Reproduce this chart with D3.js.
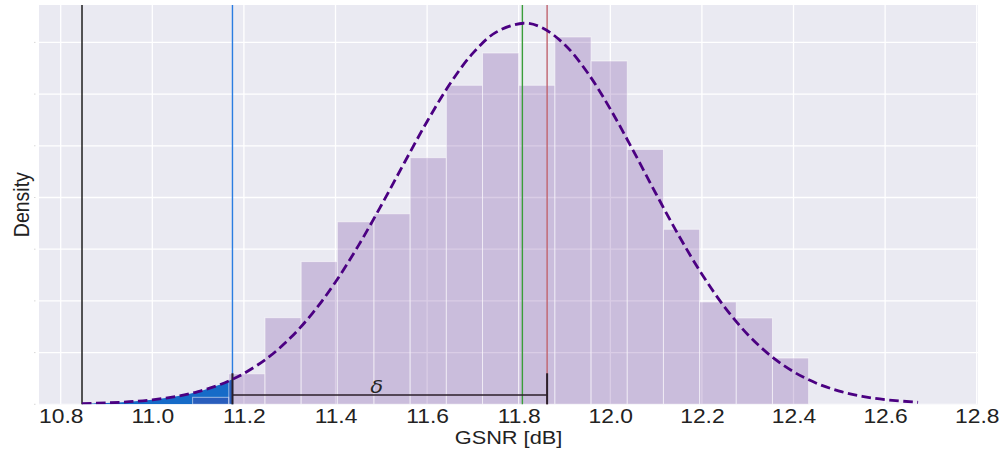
<!DOCTYPE html>
<html>
<head>
<meta charset="utf-8">
<script src="https://cdn.jsdelivr.net/npm/d3@7"></script>
<style>
  html, body { margin: 0; padding: 0; background: #ffffff; }
  svg { display: block; }
</style>
</head>
<body>
<svg id="chart" width="1005" height="454"></svg>
<script>
// ---------------- data ----------------
const xTickValues = [10.8, 11.0, 11.2, 11.4, 11.6, 11.8, 12.0, 12.2, 12.4, 12.6, 12.8];
const yGridValues = [0, 0.2, 0.4, 0.6, 0.8, 1.0, 1.2, 1.4];

const binEdges = [11.088, 11.167, 11.246, 11.325, 11.404, 11.484, 11.563, 11.642, 11.721,
                  11.800, 11.879, 11.958, 12.037, 12.116, 12.195, 12.275, 12.354, 12.433];
const binDensity = [0.027, 0.118, 0.335, 0.552, 0.706, 0.737, 0.954, 1.234, 1.359,
                    1.234, 1.421, 1.328, 0.986, 0.677, 0.396, 0.334, 0.179];

const curveX = [10.8465, 10.90, 10.95, 11.00, 11.05, 11.10, 11.15, 11.175, 11.20, 11.25, 11.30,
                11.35, 11.40, 11.45, 11.50, 11.55, 11.60, 11.65, 11.70, 11.75, 11.81, 11.85,
                11.90, 11.95, 12.00, 12.05, 12.10, 12.15, 12.20, 12.25, 12.30, 12.35, 12.40,
                12.45, 12.50, 12.55, 12.60, 12.672];
const curveY = [0.0028, 0.0055, 0.0100, 0.0175, 0.0297, 0.0489, 0.0777, 0.0967, 0.1192, 0.1770, 0.2541,
                0.3527, 0.4733, 0.6139, 0.7699, 0.9335, 1.0941, 1.2398, 1.3583, 1.4386, 1.4740, 1.4575,
                1.3920, 1.2834, 1.1421, 0.9811, 0.8135, 0.6512, 0.5032, 0.3753, 0.2702, 0.1878, 0.1259,
                0.0815, 0.0510, 0.0308, 0.0179, 0.0077];

const lineLabels = ["min", "threshold", "mean", "nominal"];
const lineValues = [10.8465, 11.175, 11.808, 11.862];

const deltaRange = [11.175, 11.862];
const deltaBarLevel = 0.036;
const deltaTickTop = 0.12;
const deltaLabelPos = [11.49, 0.045];
const deltaLabel = "δ";

const xLabel = "GSNR [dB]";
const yLabel = "Density";

// ---------------- layout ----------------
const plot = { left: 39, right: 978, top: 5, bottom: 404.3 };
const stretch = 1.17;

const svg = d3.select("#chart");
const x = d3.scaleLinear().domain([10.7526, 12.8028]).range([plot.left, plot.right]);
const y = d3.scaleLinear().domain([0, 1.5446]).range([plot.bottom, plot.top]);

svg.append("defs").append("clipPath").attr("id", "clip")
  .append("rect").attr("x", plot.left).attr("y", plot.top)
  .attr("width", plot.right - plot.left).attr("height", plot.bottom - plot.top);

// background
svg.append("rect").attr("x", plot.left).attr("y", plot.top)
  .attr("width", plot.right - plot.left).attr("height", plot.bottom - plot.top)
  .attr("fill", "#EAEAF2");

// grid
const grid = svg.append("g").attr("clip-path", "url(#clip)");
grid.selectAll("line.vg").data(xTickValues).join("line")
  .attr("x1", d => x(d)).attr("x2", d => x(d))
  .attr("y1", plot.top).attr("y2", plot.bottom)
  .attr("stroke", "#ffffff").attr("stroke-width", 1.3);
grid.selectAll("line.hg").data(yGridValues).join("line")
  .attr("x1", plot.left).attr("x2", plot.right)
  .attr("y1", d => y(d)).attr("y2", d => y(d))
  .attr("stroke", "#ffffff").attr("stroke-width", 1.3);

// y tick marks (tiny, unlabeled)
svg.append("g").selectAll("line").data(yGridValues).join("line")
  .attr("x1", plot.left - 5).attr("x2", plot.left - 3.5)
  .attr("y1", d => y(d)).attr("y2", d => y(d))
  .attr("stroke", "#d8d8d8").attr("stroke-width", 1);

const curvePts = curveX.map((v, i) => [v, curveY[i]]);

// shaded tail
const tailPts = curvePts.filter(p => p[0] <= deltaRange[0] + 1e-9);
svg.append("path")
  .attr("clip-path", "url(#clip)")
  .datum(tailPts)
  .attr("d", d3.area().x(d => x(d[0])).y0(y(0)).y1(d => y(d[1])).curve(d3.curveCatmullRom))
  .attr("fill", "#166bc8");

// histogram
const bins = binDensity.map((d, i) => ({ x0: binEdges[i], x1: binEdges[i + 1], d }));
svg.append("g").attr("clip-path", "url(#clip)")
  .selectAll("rect").data(bins).join("rect")
  .attr("x", b => x(b.x0)).attr("width", b => x(b.x1) - x(b.x0))
  .attr("y", b => y(b.d)).attr("height", b => y(0) - y(b.d))
  .attr("fill", "#663399").attr("fill-opacity", 0.245)
  .attr("stroke", "#ffffff").attr("stroke-opacity", 0.55).attr("stroke-width", 1);

// vertical reference lines
const lineColors = ["#111111", "#2a7de1", "#3a9e3a", "#c0646e"];
svg.append("g").selectAll("line").data(lineValues).join("line")
  .attr("x1", d => x(d)).attr("x2", d => x(d))
  .attr("y1", plot.top).attr("y2", plot.bottom)
  .attr("stroke", (d, i) => lineColors[i]).attr("stroke-width", 1.4);

// delta bracket
const br = svg.append("g").attr("stroke", "#2b1f2a").attr("stroke-width", 1.4);
br.append("line")
  .attr("x1", x(deltaRange[0])).attr("x2", x(deltaRange[1]))
  .attr("y1", y(deltaBarLevel)).attr("y2", y(deltaBarLevel));
br.selectAll("line.end").data(deltaRange).join("line")
  .attr("x1", d => x(d)).attr("x2", d => x(d))
  .attr("y1", y(deltaTickTop)).attr("y2", y(0))
  .attr("stroke-width", 2);
svg.append("text")
  .attr("transform", `translate(${x(deltaLabelPos[0])},${y(deltaLabelPos[1])}) scale(${stretch},1)`)
  .attr("text-anchor", "middle")
  .attr("font-family", "DejaVu Sans, sans-serif")
  .attr("font-style", "italic")
  .attr("font-size", 18)
  .attr("fill", "#262626")
  .text(deltaLabel);

// fitted curve
svg.append("path")
  .attr("clip-path", "url(#clip)")
  .datum(curvePts)
  .attr("d", d3.line().x(d => x(d[0])).y(d => y(d[1])).curve(d3.curveCatmullRom))
  .attr("fill", "none")
  .attr("stroke", "#4B0082")
  .attr("stroke-width", 2.8)
  .attr("stroke-dasharray", "9.5,4.5");

// x axis
const xAxis = d3.axisBottom(x).tickValues(xTickValues).tickSize(0).tickPadding(4.5)
  .tickFormat(d3.format(".1f"));
const gx = svg.append("g").attr("transform", `translate(0,${plot.bottom})`).call(xAxis);
gx.select(".domain").remove();
gx.selectAll("text")
  .attr("font-family", "Liberation Sans, Arial, sans-serif")
  .attr("font-size", 19.5)
  .attr("fill", "#222222")
  .attr("transform", `scale(${stretch},1)`);

// axis labels
svg.append("text")
  .attr("transform", `translate(${(plot.left + plot.right) / 2},443.5) scale(${stretch},1)`)
  .attr("text-anchor", "middle")
  .attr("font-family", "Liberation Sans, Arial, sans-serif")
  .attr("font-size", 18.6)
  .attr("fill", "#222222")
  .text(xLabel);

svg.append("text")
  .attr("transform", `translate(28.5,${(plot.top + plot.bottom) / 2}) scale(${stretch},1) rotate(-90)`)
  .attr("text-anchor", "middle")
  .attr("font-family", "Liberation Sans, Arial, sans-serif")
  .attr("font-size", 19.5)
  .attr("fill", "#222222")
  .text(yLabel);
</script>
</body>
</html>
